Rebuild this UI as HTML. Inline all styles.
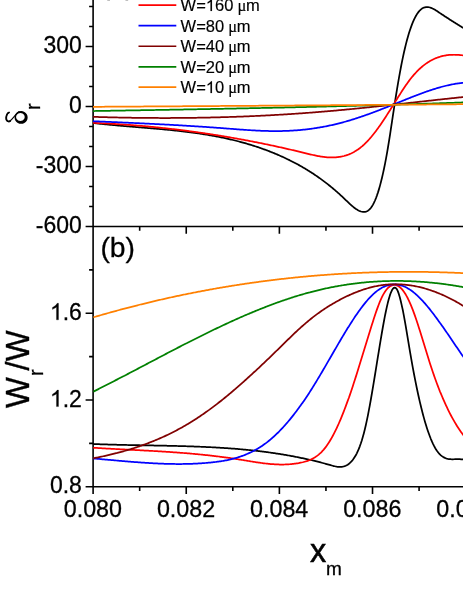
<!DOCTYPE html>
<html><head><meta charset="utf-8"><title>chart</title>
<style>
html,body{margin:0;padding:0;background:#fff;}
body{width:463px;height:599px;overflow:hidden;position:relative;}
.s{font-family:"Liberation Sans",sans-serif;fill:#000;}
.sf{font-family:"Liberation Serif",serif;fill:#000;}
.t{stroke:#000;stroke-width:0.28px;}
.l{stroke:#000;stroke-width:0.15px;}
</style></head><body>
<svg width="463" height="599" viewBox="0 0 463 599" style="position:absolute;left:0;top:0;will-change:transform;opacity:0.999">
<rect width="463" height="599" fill="#fff"/>
<path d="M93.10 -2 V487.55 M92.30 226.50 H470 M92.30 486.75 H470 M89.10 6.44 H93.10 M89.10 26.44 H93.10 M85.60 46.45 H93.10 M89.10 66.46 H93.10 M89.10 86.46 H93.10 M85.60 106.47 H93.10 M89.10 126.47 H93.10 M89.10 146.48 H93.10 M85.60 166.49 H93.10 M89.10 186.49 H93.10 M89.10 206.50 H93.10 M85.60 226.50 H93.10 M85.60 486.75 H93.10 M89.10 443.38 H93.10 M85.60 400.00 H93.10 M89.10 356.62 H93.10 M85.60 313.25 H93.10 M89.10 269.88 H93.10 M93.10 226.50 V233.80 M139.67 226.50 V230.80 M186.24 226.50 V233.80 M232.81 226.50 V230.80 M279.38 226.50 V233.80 M325.95 226.50 V230.80 M372.52 226.50 V233.80 M419.09 226.50 V230.80 M465.66 226.50 V233.80 M93.10 486.75 V494.05 M139.67 486.75 V491.05 M186.24 486.75 V494.05 M232.81 486.75 V491.05 M279.38 486.75 V494.05 M325.95 486.75 V491.05 M372.52 486.75 V494.05 M419.09 486.75 V491.05 M465.66 486.75 V494.05" stroke="#000" stroke-width="1.60" fill="none"/>
<defs><clipPath id="ct"><rect x="92.50" y="-5" width="400" height="231.50"/></clipPath><clipPath id="cb"><rect x="92.50" y="226.50" width="400" height="260.25"/></clipPath></defs>
<g fill="none" stroke-width="1.75" stroke-linejoin="round" clip-path="url(#ct)">
<path stroke="#000" d="M93.0 122.97L94.0 123.09L95.0 123.20L96.0 123.32L97.0 123.43L98.0 123.54L99.0 123.65L100.0 123.76L101.0 123.87L102.0 123.97L103.0 124.08L104.0 124.18L105.0 124.28L106.0 124.38L107.0 124.48L108.0 124.58L109.0 124.68L110.0 124.78L111.0 124.87L112.0 124.97L113.0 125.06L114.0 125.15L115.0 125.24L116.0 125.33L117.0 125.42L118.0 125.51L119.0 125.60L120.0 125.69L121.0 125.78L122.0 125.86L123.0 125.95L124.0 126.04L125.0 126.12L126.0 126.21L127.0 126.29L128.0 126.37L129.0 126.46L130.0 126.54L131.0 126.62L132.0 126.70L133.0 126.79L134.0 126.87L135.0 126.95L136.0 127.03L137.0 127.11L138.0 127.20L139.0 127.28L140.0 127.36L141.0 127.44L142.0 127.52L143.0 127.60L144.0 127.69L145.0 127.77L146.0 127.85L147.0 127.93L148.0 128.02L149.0 128.10L150.0 128.18L151.0 128.27L152.0 128.35L153.0 128.44L154.0 128.52L155.0 128.61L156.0 128.70L157.0 128.78L158.0 128.87L159.0 128.96L160.0 129.05L161.0 129.14L162.0 129.23L163.0 129.32L164.0 129.42L165.0 129.51L166.0 129.61L167.0 129.70L168.0 129.80L169.0 129.90L170.0 130.00L171.0 130.10L172.0 130.20L173.0 130.30L174.0 130.40L175.0 130.51L176.0 130.61L177.0 130.72L178.0 130.83L179.0 130.94L180.0 131.05L181.0 131.17L182.0 131.28L183.0 131.40L184.0 131.52L185.0 131.64L186.0 131.76L187.0 131.88L188.0 132.01L189.0 132.13L190.0 132.26L191.0 132.39L192.0 132.52L193.0 132.66L194.0 132.79L195.0 132.93L196.0 133.07L197.0 133.21L198.0 133.36L199.0 133.50L200.0 133.65L201.0 133.80L202.0 133.96L203.0 134.11L204.0 134.27L205.0 134.43L206.0 134.59L207.0 134.76L208.0 134.92L209.0 135.09L210.0 135.27L211.0 135.44L212.0 135.62L213.0 135.80L214.0 135.98L215.0 136.17L216.0 136.35L217.0 136.55L218.0 136.74L219.0 136.94L220.0 137.13L221.0 137.34L222.0 137.54L223.0 137.75L224.0 137.96L225.0 138.18L226.0 138.39L227.0 138.61L228.0 138.84L229.0 139.07L230.0 139.30L231.0 139.53L232.0 139.77L233.0 140.01L234.0 140.25L235.0 140.50L236.0 140.75L237.0 141.00L238.0 141.26L239.0 141.52L240.0 141.78L241.0 142.05L242.0 142.32L243.0 142.60L244.0 142.88L245.0 143.16L246.0 143.45L247.0 143.74L248.0 144.04L249.0 144.33L250.0 144.64L251.0 144.94L252.0 145.25L253.0 145.57L254.0 145.89L255.0 146.21L256.0 146.54L257.0 146.87L258.0 147.20L259.0 147.54L260.0 147.89L261.0 148.24L262.0 148.59L263.0 148.95L264.0 149.31L265.0 149.68L266.0 150.05L267.0 150.42L268.0 150.80L269.0 151.19L270.0 151.58L271.0 151.97L272.0 152.37L273.0 152.77L274.0 153.18L275.0 153.59L276.0 154.01L277.0 154.43L278.0 154.86L279.0 155.30L280.0 155.73L281.0 156.18L282.0 156.62L283.0 157.08L284.0 157.54L285.0 158.00L286.0 158.47L287.0 158.95L288.0 159.43L289.0 159.91L290.0 160.41L291.0 160.91L292.0 161.41L293.0 161.92L294.0 162.44L295.0 162.96L296.0 163.49L297.0 164.03L298.0 164.57L299.0 165.12L300.0 165.68L301.0 166.24L302.0 166.82L303.0 167.39L304.0 167.98L305.0 168.57L306.0 169.17L307.0 169.78L308.0 170.39L309.0 171.02L310.0 171.65L311.0 172.28L312.0 172.93L313.0 173.59L314.0 174.25L315.0 174.92L316.0 175.60L317.0 176.28L318.0 176.98L319.0 177.68L320.0 178.40L321.0 179.12L322.0 179.85L323.0 180.59L324.0 181.34L325.0 182.10L326.0 182.86L327.0 183.64L328.0 184.42L329.0 185.22L330.0 186.02L331.0 186.84L332.0 187.66L333.0 188.50L334.0 189.34L335.0 190.20L336.0 191.06L337.0 191.93L338.0 192.82L339.0 193.71L340.0 194.62L341.0 195.54L342.0 196.46L343.0 197.40L344.0 198.35L345.0 199.31L346.0 200.27L347.0 201.24L348.0 202.19L349.0 203.14L350.0 204.06L351.0 204.97L352.0 205.84L353.0 206.68L354.0 207.48L355.0 208.24L356.0 208.94L357.0 209.59L358.0 210.17L359.0 210.69L360.0 211.13L361.0 211.49L362.0 211.76L363.0 211.93L364.0 211.98L365.0 211.89L366.0 211.66L367.0 211.26L368.0 210.68L369.0 209.91L370.0 208.94L371.0 207.74L372.0 206.30L373.0 204.62L374.0 202.68L375.0 200.50L376.0 198.05L377.0 195.34L378.0 192.37L379.0 189.13L380.0 185.62L381.0 181.83L382.0 177.76L383.0 173.40L384.0 168.76L385.0 163.83L386.0 158.61L387.0 153.09L388.0 147.27L389.0 141.14L390.0 134.78L391.0 128.23L392.0 121.60L393.0 114.93L394.0 108.32L395.0 101.83L396.0 95.49L397.0 89.34L398.0 83.37L399.0 77.61L400.0 72.06L401.0 66.74L402.0 61.66L403.0 56.84L404.0 52.27L405.0 47.96L406.0 43.89L407.0 40.06L408.0 36.48L409.0 33.12L410.0 29.99L411.0 27.09L412.0 24.41L413.0 21.94L414.0 19.68L415.0 17.62L416.0 15.77L417.0 14.11L418.0 12.65L419.0 11.37L420.0 10.28L421.0 9.36L422.0 8.61L423.0 8.01L424.0 7.57L425.0 7.27L426.0 7.09L427.0 7.04L428.0 7.10L429.0 7.26L430.0 7.52L431.0 7.85L432.0 8.27L433.0 8.74L434.0 9.27L435.0 9.85L436.0 10.47L437.0 11.11L438.0 11.77L439.0 12.44L440.0 13.11L441.0 13.78L442.0 14.44L443.0 15.10L444.0 15.76L445.0 16.41L446.0 17.06L447.0 17.71L448.0 18.35L449.0 19.00L450.0 19.64L451.0 20.27L452.0 20.91L453.0 21.54L454.0 22.18L455.0 22.81L456.0 23.43L457.0 24.06L458.0 24.68L459.0 25.31L460.0 25.93L461.0 26.55L462.0 27.17L463.0 27.79L464.0 28.41L465.0 29.02L466.0 29.64L467.0 30.25L468.0 30.87L469.0 31.48L470.0 32.09L471.0 32.71L472.0 33.32L473.0 33.93L474.0 34.54L475.0 35.16L476.0 35.77L477.0 36.38L478.0 37.00"/>
<path stroke="#f00" d="M93.0 122.85L94.0 122.89L95.0 122.93L96.0 122.98L97.0 123.02L98.0 123.06L99.0 123.11L100.0 123.15L101.0 123.20L102.0 123.25L103.0 123.30L104.0 123.34L105.0 123.40L106.0 123.45L107.0 123.50L108.0 123.55L109.0 123.61L110.0 123.66L111.0 123.72L112.0 123.78L113.0 123.83L114.0 123.89L115.0 123.95L116.0 124.02L117.0 124.08L118.0 124.14L119.0 124.21L120.0 124.27L121.0 124.34L122.0 124.40L123.0 124.47L124.0 124.54L125.0 124.61L126.0 124.68L127.0 124.75L128.0 124.83L129.0 124.90L130.0 124.98L131.0 125.05L132.0 125.13L133.0 125.21L134.0 125.29L135.0 125.37L136.0 125.45L137.0 125.53L138.0 125.61L139.0 125.70L140.0 125.78L141.0 125.87L142.0 125.95L143.0 126.04L144.0 126.13L145.0 126.22L146.0 126.31L147.0 126.40L148.0 126.49L149.0 126.59L150.0 126.68L151.0 126.78L152.0 126.87L153.0 126.97L154.0 127.07L155.0 127.17L156.0 127.27L157.0 127.37L158.0 127.47L159.0 127.57L160.0 127.68L161.0 127.78L162.0 127.89L163.0 128.00L164.0 128.10L165.0 128.21L166.0 128.32L167.0 128.43L168.0 128.55L169.0 128.66L170.0 128.77L171.0 128.89L172.0 129.00L173.0 129.12L174.0 129.24L175.0 129.36L176.0 129.48L177.0 129.60L178.0 129.72L179.0 129.84L180.0 129.97L181.0 130.09L182.0 130.22L183.0 130.34L184.0 130.47L185.0 130.60L186.0 130.73L187.0 130.86L188.0 130.99L189.0 131.12L190.0 131.26L191.0 131.39L192.0 131.53L193.0 131.66L194.0 131.80L195.0 131.94L196.0 132.08L197.0 132.22L198.0 132.36L199.0 132.50L200.0 132.64L201.0 132.79L202.0 132.93L203.0 133.08L204.0 133.23L205.0 133.37L206.0 133.52L207.0 133.67L208.0 133.82L209.0 133.98L210.0 134.13L211.0 134.28L212.0 134.44L213.0 134.59L214.0 134.75L215.0 134.91L216.0 135.07L217.0 135.23L218.0 135.39L219.0 135.55L220.0 135.71L221.0 135.88L222.0 136.04L223.0 136.21L224.0 136.37L225.0 136.54L226.0 136.71L227.0 136.88L228.0 137.05L229.0 137.22L230.0 137.39L231.0 137.57L232.0 137.74L233.0 137.91L234.0 138.09L235.0 138.27L236.0 138.45L237.0 138.63L238.0 138.81L239.0 138.99L240.0 139.17L241.0 139.35L242.0 139.54L243.0 139.72L244.0 139.91L245.0 140.09L246.0 140.28L247.0 140.47L248.0 140.66L249.0 140.85L250.0 141.04L251.0 141.24L252.0 141.43L253.0 141.62L254.0 141.82L255.0 142.02L256.0 142.21L257.0 142.41L258.0 142.61L259.0 142.81L260.0 143.01L261.0 143.22L262.0 143.42L263.0 143.63L264.0 143.83L265.0 144.04L266.0 144.24L267.0 144.45L268.0 144.66L269.0 144.87L270.0 145.08L271.0 145.30L272.0 145.51L273.0 145.72L274.0 145.94L275.0 146.16L276.0 146.37L277.0 146.59L278.0 146.81L279.0 147.03L280.0 147.25L281.0 147.47L282.0 147.70L283.0 147.92L284.0 148.14L285.0 148.37L286.0 148.60L287.0 148.82L288.0 149.05L289.0 149.28L290.0 149.51L291.0 149.75L292.0 149.98L293.0 150.21L294.0 150.45L295.0 150.68L296.0 150.92L297.0 151.16L298.0 151.39L299.0 151.63L300.0 151.87L301.0 152.12L302.0 152.36L303.0 152.60L304.0 152.85L305.0 153.09L306.0 153.34L307.0 153.58L308.0 153.82L309.0 154.06L310.0 154.30L311.0 154.53L312.0 154.76L313.0 154.99L314.0 155.21L315.0 155.42L316.0 155.63L317.0 155.83L318.0 156.02L319.0 156.20L320.0 156.37L321.0 156.54L322.0 156.69L323.0 156.83L324.0 156.96L325.0 157.08L326.0 157.18L327.0 157.27L328.0 157.34L329.0 157.40L330.0 157.44L331.0 157.47L332.0 157.47L333.0 157.46L334.0 157.44L335.0 157.39L336.0 157.32L337.0 157.23L338.0 157.12L339.0 156.99L340.0 156.84L341.0 156.66L342.0 156.46L343.0 156.23L344.0 155.98L345.0 155.70L346.0 155.40L347.0 155.06L348.0 154.70L349.0 154.32L350.0 153.90L351.0 153.45L352.0 152.97L353.0 152.46L354.0 151.92L355.0 151.35L356.0 150.74L357.0 150.10L358.0 149.42L359.0 148.71L360.0 147.97L361.0 147.18L362.0 146.36L363.0 145.50L364.0 144.61L365.0 143.67L366.0 142.69L367.0 141.68L368.0 140.62L369.0 139.53L370.0 138.40L371.0 137.23L372.0 136.04L373.0 134.80L374.0 133.54L375.0 132.25L376.0 130.93L377.0 129.58L378.0 128.21L379.0 126.81L380.0 125.39L381.0 123.94L382.0 122.48L383.0 120.99L384.0 119.49L385.0 117.97L386.0 116.44L387.0 114.89L388.0 113.33L389.0 111.75L390.0 110.17L391.0 108.58L392.0 106.98L393.0 105.37L394.0 103.76L395.0 102.15L396.0 100.54L397.0 98.93L398.0 97.33L399.0 95.74L400.0 94.16L401.0 92.60L402.0 91.05L403.0 89.52L404.0 88.01L405.0 86.53L406.0 85.08L407.0 83.65L408.0 82.25L409.0 80.89L410.0 79.57L411.0 78.28L412.0 77.04L413.0 75.84L414.0 74.68L415.0 73.55L416.0 72.47L417.0 71.42L418.0 70.42L419.0 69.45L420.0 68.51L421.0 67.62L422.0 66.75L423.0 65.93L424.0 65.14L425.0 64.38L426.0 63.66L427.0 62.97L428.0 62.31L429.0 61.68L430.0 61.09L431.0 60.52L432.0 59.99L433.0 59.48L434.0 59.01L435.0 58.56L436.0 58.14L437.0 57.75L438.0 57.39L439.0 57.05L440.0 56.74L441.0 56.45L442.0 56.19L443.0 55.95L444.0 55.73L445.0 55.54L446.0 55.37L447.0 55.22L448.0 55.10L449.0 54.99L450.0 54.90L451.0 54.84L452.0 54.79L453.0 54.76L454.0 54.75L455.0 54.76L456.0 54.78L457.0 54.82L458.0 54.88L459.0 54.95L460.0 55.04L461.0 55.14L462.0 55.25L463.0 55.38L464.0 55.52"/>
<path stroke="#00f" d="M93.0 121.23L94.0 121.27L95.0 121.31L96.0 121.35L97.0 121.40L98.0 121.44L99.0 121.48L100.0 121.52L101.0 121.56L102.0 121.60L103.0 121.65L104.0 121.69L105.0 121.73L106.0 121.77L107.0 121.81L108.0 121.86L109.0 121.90L110.0 121.94L111.0 121.98L112.0 122.03L113.0 122.07L114.0 122.11L115.0 122.16L116.0 122.20L117.0 122.24L118.0 122.29L119.0 122.33L120.0 122.37L121.0 122.42L122.0 122.46L123.0 122.50L124.0 122.55L125.0 122.59L126.0 122.64L127.0 122.68L128.0 122.73L129.0 122.77L130.0 122.82L131.0 122.86L132.0 122.91L133.0 122.95L134.0 123.00L135.0 123.04L136.0 123.09L137.0 123.14L138.0 123.18L139.0 123.23L140.0 123.28L141.0 123.32L142.0 123.37L143.0 123.42L144.0 123.47L145.0 123.51L146.0 123.56L147.0 123.61L148.0 123.66L149.0 123.71L150.0 123.76L151.0 123.81L152.0 123.86L153.0 123.91L154.0 123.96L155.0 124.01L156.0 124.06L157.0 124.11L158.0 124.16L159.0 124.21L160.0 124.26L161.0 124.31L162.0 124.37L163.0 124.42L164.0 124.47L165.0 124.52L166.0 124.58L167.0 124.63L168.0 124.68L169.0 124.74L170.0 124.79L171.0 124.85L172.0 124.90L173.0 124.96L174.0 125.01L175.0 125.07L176.0 125.13L177.0 125.18L178.0 125.24L179.0 125.30L180.0 125.36L181.0 125.41L182.0 125.47L183.0 125.53L184.0 125.59L185.0 125.65L186.0 125.71L187.0 125.77L188.0 125.83L189.0 125.89L190.0 125.95L191.0 126.01L192.0 126.08L193.0 126.14L194.0 126.20L195.0 126.27L196.0 126.33L197.0 126.39L198.0 126.46L199.0 126.52L200.0 126.59L201.0 126.65L202.0 126.72L203.0 126.79L204.0 126.85L205.0 126.92L206.0 126.99L207.0 127.06L208.0 127.13L209.0 127.20L210.0 127.27L211.0 127.34L212.0 127.41L213.0 127.48L214.0 127.55L215.0 127.62L216.0 127.69L217.0 127.77L218.0 127.84L219.0 127.91L220.0 127.99L221.0 128.06L222.0 128.14L223.0 128.21L224.0 128.29L225.0 128.37L226.0 128.44L227.0 128.52L228.0 128.60L229.0 128.67L230.0 128.75L231.0 128.83L232.0 128.91L233.0 128.98L234.0 129.06L235.0 129.14L236.0 129.21L237.0 129.29L238.0 129.36L239.0 129.44L240.0 129.51L241.0 129.58L242.0 129.65L243.0 129.72L244.0 129.79L245.0 129.86L246.0 129.93L247.0 130.00L248.0 130.06L249.0 130.13L250.0 130.19L251.0 130.25L252.0 130.31L253.0 130.37L254.0 130.42L255.0 130.48L256.0 130.53L257.0 130.58L258.0 130.63L259.0 130.67L260.0 130.72L261.0 130.76L262.0 130.80L263.0 130.84L264.0 130.87L265.0 130.90L266.0 130.93L267.0 130.96L268.0 130.99L269.0 131.01L270.0 131.03L271.0 131.04L272.0 131.06L273.0 131.07L274.0 131.07L275.0 131.08L276.0 131.08L277.0 131.08L278.0 131.07L279.0 131.06L280.0 131.05L281.0 131.03L282.0 131.01L283.0 130.99L284.0 130.96L285.0 130.93L286.0 130.89L287.0 130.85L288.0 130.81L289.0 130.77L290.0 130.72L291.0 130.66L292.0 130.60L293.0 130.54L294.0 130.48L295.0 130.41L296.0 130.34L297.0 130.26L298.0 130.18L299.0 130.10L300.0 130.01L301.0 129.91L302.0 129.82L303.0 129.72L304.0 129.61L305.0 129.51L306.0 129.39L307.0 129.28L308.0 129.16L309.0 129.03L310.0 128.91L311.0 128.77L312.0 128.64L313.0 128.50L314.0 128.35L315.0 128.20L316.0 128.05L317.0 127.90L318.0 127.73L319.0 127.57L320.0 127.40L321.0 127.23L322.0 127.05L323.0 126.87L324.0 126.68L325.0 126.49L326.0 126.29L327.0 126.09L328.0 125.89L329.0 125.68L330.0 125.47L331.0 125.25L332.0 125.03L333.0 124.81L334.0 124.58L335.0 124.34L336.0 124.10L337.0 123.86L338.0 123.61L339.0 123.36L340.0 123.10L341.0 122.84L342.0 122.58L343.0 122.31L344.0 122.03L345.0 121.76L346.0 121.47L347.0 121.19L348.0 120.89L349.0 120.60L350.0 120.30L351.0 120.00L352.0 119.69L353.0 119.38L354.0 119.07L355.0 118.75L356.0 118.43L357.0 118.10L358.0 117.77L359.0 117.44L360.0 117.11L361.0 116.77L362.0 116.43L363.0 116.08L364.0 115.74L365.0 115.39L366.0 115.03L367.0 114.68L368.0 114.32L369.0 113.96L370.0 113.59L371.0 113.22L372.0 112.86L373.0 112.48L374.0 112.11L375.0 111.73L376.0 111.35L377.0 110.97L378.0 110.59L379.0 110.21L380.0 109.82L381.0 109.43L382.0 109.04L383.0 108.65L384.0 108.26L385.0 107.86L386.0 107.47L387.0 107.07L388.0 106.67L389.0 106.27L390.0 105.87L391.0 105.47L392.0 105.07L393.0 104.67L394.0 104.27L395.0 103.87L396.0 103.46L397.0 103.06L398.0 102.66L399.0 102.25L400.0 101.85L401.0 101.44L402.0 101.04L403.0 100.64L404.0 100.23L405.0 99.83L406.0 99.43L407.0 99.03L408.0 98.63L409.0 98.23L410.0 97.83L411.0 97.44L412.0 97.04L413.0 96.65L414.0 96.26L415.0 95.87L416.0 95.49L417.0 95.10L418.0 94.72L419.0 94.34L420.0 93.97L421.0 93.59L422.0 93.23L423.0 92.86L424.0 92.50L425.0 92.14L426.0 91.78L427.0 91.43L428.0 91.09L429.0 90.74L430.0 90.41L431.0 90.07L432.0 89.75L433.0 89.42L434.0 89.10L435.0 88.79L436.0 88.48L437.0 88.18L438.0 87.89L439.0 87.60L440.0 87.31L441.0 87.03L442.0 86.76L443.0 86.50L444.0 86.24L445.0 85.99L446.0 85.75L447.0 85.51L448.0 85.28L449.0 85.06L450.0 84.84L451.0 84.64L452.0 84.44L453.0 84.25L454.0 84.07L455.0 83.89L456.0 83.73L457.0 83.57L458.0 83.43L459.0 83.29L460.0 83.16L461.0 83.04L462.0 82.93L463.0 82.83L464.0 82.74"/>
<path stroke="#800000" d="M93.0 116.84L94.0 116.87L95.0 116.90L96.0 116.93L97.0 116.96L98.0 116.99L99.0 117.02L100.0 117.05L101.0 117.08L102.0 117.11L103.0 117.13L104.0 117.16L105.0 117.19L106.0 117.22L107.0 117.24L108.0 117.27L109.0 117.29L110.0 117.32L111.0 117.34L112.0 117.37L113.0 117.39L114.0 117.41L115.0 117.44L116.0 117.46L117.0 117.48L118.0 117.50L119.0 117.52L120.0 117.54L121.0 117.56L122.0 117.58L123.0 117.60L124.0 117.62L125.0 117.64L126.0 117.66L127.0 117.67L128.0 117.69L129.0 117.71L130.0 117.72L131.0 117.74L132.0 117.76L133.0 117.77L134.0 117.78L135.0 117.80L136.0 117.81L137.0 117.82L138.0 117.84L139.0 117.85L140.0 117.86L141.0 117.87L142.0 117.88L143.0 117.89L144.0 117.90L145.0 117.91L146.0 117.92L147.0 117.93L148.0 117.94L149.0 117.95L150.0 117.95L151.0 117.96L152.0 117.97L153.0 117.97L154.0 117.98L155.0 117.98L156.0 117.99L157.0 117.99L158.0 117.99L159.0 118.00L160.0 118.00L161.0 118.00L162.0 118.00L163.0 118.00L164.0 118.00L165.0 118.00L166.0 118.00L167.0 118.00L168.0 118.00L169.0 118.00L170.0 118.00L171.0 117.99L172.0 117.99L173.0 117.99L174.0 117.98L175.0 117.98L176.0 117.97L177.0 117.97L178.0 117.96L179.0 117.95L180.0 117.95L181.0 117.94L182.0 117.93L183.0 117.92L184.0 117.91L185.0 117.91L186.0 117.90L187.0 117.89L188.0 117.87L189.0 117.86L190.0 117.85L191.0 117.84L192.0 117.83L193.0 117.81L194.0 117.80L195.0 117.78L196.0 117.77L197.0 117.75L198.0 117.74L199.0 117.72L200.0 117.71L201.0 117.69L202.0 117.67L203.0 117.65L204.0 117.63L205.0 117.61L206.0 117.59L207.0 117.57L208.0 117.55L209.0 117.53L210.0 117.51L211.0 117.49L212.0 117.47L213.0 117.44L214.0 117.42L215.0 117.39L216.0 117.37L217.0 117.34L218.0 117.32L219.0 117.29L220.0 117.26L221.0 117.24L222.0 117.21L223.0 117.18L224.0 117.15L225.0 117.12L226.0 117.09L227.0 117.06L228.0 117.03L229.0 117.00L230.0 116.97L231.0 116.94L232.0 116.90L233.0 116.87L234.0 116.84L235.0 116.80L236.0 116.77L237.0 116.73L238.0 116.69L239.0 116.66L240.0 116.62L241.0 116.58L242.0 116.54L243.0 116.51L244.0 116.47L245.0 116.43L246.0 116.39L247.0 116.35L248.0 116.30L249.0 116.26L250.0 116.22L251.0 116.18L252.0 116.13L253.0 116.09L254.0 116.04L255.0 116.00L256.0 115.95L257.0 115.91L258.0 115.86L259.0 115.81L260.0 115.77L261.0 115.72L262.0 115.67L263.0 115.62L264.0 115.57L265.0 115.52L266.0 115.47L267.0 115.42L268.0 115.36L269.0 115.31L270.0 115.26L271.0 115.20L272.0 115.15L273.0 115.09L274.0 115.04L275.0 114.98L276.0 114.93L277.0 114.87L278.0 114.81L279.0 114.75L280.0 114.70L281.0 114.64L282.0 114.58L283.0 114.52L284.0 114.46L285.0 114.39L286.0 114.33L287.0 114.27L288.0 114.21L289.0 114.14L290.0 114.08L291.0 114.01L292.0 113.95L293.0 113.88L294.0 113.82L295.0 113.75L296.0 113.68L297.0 113.61L298.0 113.54L299.0 113.47L300.0 113.40L301.0 113.33L302.0 113.26L303.0 113.19L304.0 113.12L305.0 113.05L306.0 112.97L307.0 112.90L308.0 112.82L309.0 112.75L310.0 112.67L311.0 112.60L312.0 112.52L313.0 112.44L314.0 112.37L315.0 112.29L316.0 112.21L317.0 112.13L318.0 112.05L319.0 111.97L320.0 111.89L321.0 111.80L322.0 111.72L323.0 111.64L324.0 111.55L325.0 111.47L326.0 111.39L327.0 111.30L328.0 111.21L329.0 111.13L330.0 111.04L331.0 110.95L332.0 110.86L333.0 110.78L334.0 110.69L335.0 110.60L336.0 110.51L337.0 110.42L338.0 110.32L339.0 110.23L340.0 110.14L341.0 110.05L342.0 109.95L343.0 109.86L344.0 109.77L345.0 109.67L346.0 109.58L347.0 109.48L348.0 109.38L349.0 109.29L350.0 109.19L351.0 109.09L352.0 109.00L353.0 108.90L354.0 108.80L355.0 108.70L356.0 108.60L357.0 108.50L358.0 108.40L359.0 108.30L360.0 108.20L361.0 108.10L362.0 108.00L363.0 107.89L364.0 107.79L365.0 107.69L366.0 107.59L367.0 107.48L368.0 107.38L369.0 107.28L370.0 107.17L371.0 107.07L372.0 106.96L373.0 106.86L374.0 106.75L375.0 106.65L376.0 106.54L377.0 106.43L378.0 106.33L379.0 106.22L380.0 106.11L381.0 106.01L382.0 105.90L383.0 105.79L384.0 105.69L385.0 105.58L386.0 105.47L387.0 105.36L388.0 105.25L389.0 105.14L390.0 105.03L391.0 104.93L392.0 104.82L393.0 104.71L394.0 104.60L395.0 104.49L396.0 104.38L397.0 104.27L398.0 104.16L399.0 104.05L400.0 103.94L401.0 103.83L402.0 103.72L403.0 103.61L404.0 103.50L405.0 103.39L406.0 103.28L407.0 103.17L408.0 103.05L409.0 102.94L410.0 102.83L411.0 102.72L412.0 102.61L413.0 102.50L414.0 102.39L415.0 102.28L416.0 102.17L417.0 102.06L418.0 101.94L419.0 101.83L420.0 101.72L421.0 101.61L422.0 101.50L423.0 101.39L424.0 101.28L425.0 101.17L426.0 101.06L427.0 100.95L428.0 100.84L429.0 100.73L430.0 100.62L431.0 100.51L432.0 100.40L433.0 100.29L434.0 100.18L435.0 100.07L436.0 99.96L437.0 99.85L438.0 99.74L439.0 99.63L440.0 99.52L441.0 99.41L442.0 99.30L443.0 99.19L444.0 99.08L445.0 98.97L446.0 98.87L447.0 98.76L448.0 98.65L449.0 98.54L450.0 98.44L451.0 98.33L452.0 98.22L453.0 98.12L454.0 98.01L455.0 97.90L456.0 97.80L457.0 97.69L458.0 97.59L459.0 97.48L460.0 97.38L461.0 97.27L462.0 97.17L463.0 97.06L464.0 96.96"/>
<path stroke="#008000" d="M93.0 111.04L94.0 111.02L95.0 111.00L96.0 110.99L97.0 110.97L98.0 110.95L99.0 110.94L100.0 110.92L101.0 110.90L102.0 110.89L103.0 110.87L104.0 110.85L105.0 110.84L106.0 110.82L107.0 110.81L108.0 110.79L109.0 110.77L110.0 110.76L111.0 110.74L112.0 110.72L113.0 110.71L114.0 110.69L115.0 110.67L116.0 110.66L117.0 110.64L118.0 110.62L119.0 110.61L120.0 110.59L121.0 110.57L122.0 110.56L123.0 110.54L124.0 110.52L125.0 110.51L126.0 110.49L127.0 110.47L128.0 110.46L129.0 110.44L130.0 110.42L131.0 110.41L132.0 110.39L133.0 110.37L134.0 110.36L135.0 110.34L136.0 110.32L137.0 110.31L138.0 110.29L139.0 110.27L140.0 110.26L141.0 110.24L142.0 110.22L143.0 110.20L144.0 110.19L145.0 110.17L146.0 110.15L147.0 110.14L148.0 110.12L149.0 110.10L150.0 110.08L151.0 110.07L152.0 110.05L153.0 110.03L154.0 110.02L155.0 110.00L156.0 109.98L157.0 109.96L158.0 109.95L159.0 109.93L160.0 109.91L161.0 109.90L162.0 109.88L163.0 109.86L164.0 109.84L165.0 109.83L166.0 109.81L167.0 109.79L168.0 109.77L169.0 109.76L170.0 109.74L171.0 109.72L172.0 109.70L173.0 109.69L174.0 109.67L175.0 109.65L176.0 109.63L177.0 109.61L178.0 109.60L179.0 109.58L180.0 109.56L181.0 109.54L182.0 109.53L183.0 109.51L184.0 109.49L185.0 109.47L186.0 109.45L187.0 109.44L188.0 109.42L189.0 109.40L190.0 109.38L191.0 109.36L192.0 109.34L193.0 109.33L194.0 109.31L195.0 109.29L196.0 109.27L197.0 109.25L198.0 109.24L199.0 109.22L200.0 109.20L201.0 109.18L202.0 109.16L203.0 109.14L204.0 109.12L205.0 109.11L206.0 109.09L207.0 109.07L208.0 109.05L209.0 109.03L210.0 109.01L211.0 108.99L212.0 108.97L213.0 108.96L214.0 108.94L215.0 108.92L216.0 108.90L217.0 108.88L218.0 108.86L219.0 108.84L220.0 108.82L221.0 108.80L222.0 108.78L223.0 108.76L224.0 108.75L225.0 108.73L226.0 108.71L227.0 108.69L228.0 108.67L229.0 108.65L230.0 108.63L231.0 108.61L232.0 108.59L233.0 108.57L234.0 108.55L235.0 108.53L236.0 108.51L237.0 108.49L238.0 108.47L239.0 108.45L240.0 108.43L241.0 108.41L242.0 108.39L243.0 108.37L244.0 108.35L245.0 108.33L246.0 108.31L247.0 108.29L248.0 108.27L249.0 108.25L250.0 108.23L251.0 108.21L252.0 108.19L253.0 108.17L254.0 108.15L255.0 108.13L256.0 108.11L257.0 108.08L258.0 108.06L259.0 108.04L260.0 108.02L261.0 108.00L262.0 107.98L263.0 107.96L264.0 107.94L265.0 107.92L266.0 107.90L267.0 107.87L268.0 107.85L269.0 107.83L270.0 107.81L271.0 107.79L272.0 107.77L273.0 107.75L274.0 107.72L275.0 107.70L276.0 107.68L277.0 107.66L278.0 107.64L279.0 107.62L280.0 107.59L281.0 107.57L282.0 107.55L283.0 107.53L284.0 107.51L285.0 107.48L286.0 107.46L287.0 107.44L288.0 107.42L289.0 107.40L290.0 107.37L291.0 107.35L292.0 107.33L293.0 107.30L294.0 107.28L295.0 107.26L296.0 107.24L297.0 107.21L298.0 107.19L299.0 107.17L300.0 107.15L301.0 107.12L302.0 107.10L303.0 107.08L304.0 107.05L305.0 107.03L306.0 107.01L307.0 106.98L308.0 106.96L309.0 106.94L310.0 106.91L311.0 106.89L312.0 106.86L313.0 106.84L314.0 106.82L315.0 106.79L316.0 106.77L317.0 106.74L318.0 106.72L319.0 106.70L320.0 106.67L321.0 106.65L322.0 106.62L323.0 106.60L324.0 106.57L325.0 106.55L326.0 106.53L327.0 106.50L328.0 106.48L329.0 106.45L330.0 106.43L331.0 106.40L332.0 106.38L333.0 106.35L334.0 106.33L335.0 106.30L336.0 106.28L337.0 106.25L338.0 106.23L339.0 106.20L340.0 106.17L341.0 106.15L342.0 106.12L343.0 106.10L344.0 106.07L345.0 106.05L346.0 106.02L347.0 105.99L348.0 105.97L349.0 105.94L350.0 105.91L351.0 105.89L352.0 105.86L353.0 105.84L354.0 105.81L355.0 105.78L356.0 105.76L357.0 105.73L358.0 105.70L359.0 105.68L360.0 105.65L361.0 105.62L362.0 105.59L363.0 105.57L364.0 105.54L365.0 105.51L366.0 105.49L367.0 105.46L368.0 105.43L369.0 105.40L370.0 105.37L371.0 105.35L372.0 105.32L373.0 105.29L374.0 105.26L375.0 105.23L376.0 105.21L377.0 105.18L378.0 105.15L379.0 105.12L380.0 105.09L381.0 105.06L382.0 105.04L383.0 105.01L384.0 104.98L385.0 104.95L386.0 104.92L387.0 104.89L388.0 104.86L389.0 104.83L390.0 104.80L391.0 104.77L392.0 104.75L393.0 104.72L394.0 104.69L395.0 104.66L396.0 104.63L397.0 104.60L398.0 104.57L399.0 104.54L400.0 104.51L401.0 104.48L402.0 104.45L403.0 104.42L404.0 104.39L405.0 104.35L406.0 104.32L407.0 104.29L408.0 104.26L409.0 104.23L410.0 104.20L411.0 104.17L412.0 104.14L413.0 104.11L414.0 104.08L415.0 104.04L416.0 104.01L417.0 103.98L418.0 103.95L419.0 103.92L420.0 103.89L421.0 103.85L422.0 103.82L423.0 103.79L424.0 103.76L425.0 103.73L426.0 103.69L427.0 103.66L428.0 103.63L429.0 103.60L430.0 103.56L431.0 103.53L432.0 103.50L433.0 103.46L434.0 103.43L435.0 103.40L436.0 103.36L437.0 103.33L438.0 103.30L439.0 103.26L440.0 103.23L441.0 103.20L442.0 103.16L443.0 103.13L444.0 103.09L445.0 103.06L446.0 103.03L447.0 102.99L448.0 102.96L449.0 102.92L450.0 102.89L451.0 102.85L452.0 102.82L453.0 102.78L454.0 102.75L455.0 102.71L456.0 102.68L457.0 102.64L458.0 102.61L459.0 102.57L460.0 102.54L461.0 102.50L462.0 102.46L463.0 102.43L464.0 102.39"/>
<path stroke="#ff8000" d="M93.0 106.82L94.0 106.81L95.0 106.80L96.0 106.80L97.0 106.79L98.0 106.78L99.0 106.78L100.0 106.77L101.0 106.76L102.0 106.76L103.0 106.75L104.0 106.75L105.0 106.74L106.0 106.73L107.0 106.73L108.0 106.72L109.0 106.71L110.0 106.71L111.0 106.70L112.0 106.69L113.0 106.69L114.0 106.68L115.0 106.68L116.0 106.67L117.0 106.66L118.0 106.66L119.0 106.65L120.0 106.64L121.0 106.64L122.0 106.63L123.0 106.62L124.0 106.62L125.0 106.61L126.0 106.60L127.0 106.60L128.0 106.59L129.0 106.59L130.0 106.58L131.0 106.57L132.0 106.57L133.0 106.56L134.0 106.55L135.0 106.55L136.0 106.54L137.0 106.53L138.0 106.53L139.0 106.52L140.0 106.52L141.0 106.51L142.0 106.50L143.0 106.50L144.0 106.49L145.0 106.48L146.0 106.48L147.0 106.47L148.0 106.46L149.0 106.46L150.0 106.45L151.0 106.45L152.0 106.44L153.0 106.43L154.0 106.43L155.0 106.42L156.0 106.41L157.0 106.41L158.0 106.40L159.0 106.39L160.0 106.39L161.0 106.38L162.0 106.37L163.0 106.37L164.0 106.36L165.0 106.36L166.0 106.35L167.0 106.34L168.0 106.34L169.0 106.33L170.0 106.32L171.0 106.32L172.0 106.31L173.0 106.30L174.0 106.30L175.0 106.29L176.0 106.29L177.0 106.28L178.0 106.27L179.0 106.27L180.0 106.26L181.0 106.25L182.0 106.25L183.0 106.24L184.0 106.23L185.0 106.23L186.0 106.22L187.0 106.21L188.0 106.21L189.0 106.20L190.0 106.19L191.0 106.19L192.0 106.18L193.0 106.18L194.0 106.17L195.0 106.16L196.0 106.16L197.0 106.15L198.0 106.14L199.0 106.14L200.0 106.13L201.0 106.12L202.0 106.12L203.0 106.11L204.0 106.10L205.0 106.10L206.0 106.09L207.0 106.08L208.0 106.08L209.0 106.07L210.0 106.07L211.0 106.06L212.0 106.05L213.0 106.05L214.0 106.04L215.0 106.03L216.0 106.03L217.0 106.02L218.0 106.01L219.0 106.01L220.0 106.00L221.0 105.99L222.0 105.99L223.0 105.98L224.0 105.97L225.0 105.97L226.0 105.96L227.0 105.95L228.0 105.95L229.0 105.94L230.0 105.93L231.0 105.93L232.0 105.92L233.0 105.91L234.0 105.91L235.0 105.90L236.0 105.89L237.0 105.89L238.0 105.88L239.0 105.87L240.0 105.87L241.0 105.86L242.0 105.85L243.0 105.85L244.0 105.84L245.0 105.83L246.0 105.83L247.0 105.82L248.0 105.81L249.0 105.81L250.0 105.80L251.0 105.79L252.0 105.79L253.0 105.78L254.0 105.77L255.0 105.77L256.0 105.76L257.0 105.75L258.0 105.75L259.0 105.74L260.0 105.73L261.0 105.73L262.0 105.72L263.0 105.71L264.0 105.71L265.0 105.70L266.0 105.69L267.0 105.69L268.0 105.68L269.0 105.67L270.0 105.67L271.0 105.66L272.0 105.65L273.0 105.65L274.0 105.64L275.0 105.63L276.0 105.63L277.0 105.62L278.0 105.61L279.0 105.61L280.0 105.60L281.0 105.59L282.0 105.58L283.0 105.58L284.0 105.57L285.0 105.56L286.0 105.56L287.0 105.55L288.0 105.54L289.0 105.54L290.0 105.53L291.0 105.52L292.0 105.52L293.0 105.51L294.0 105.50L295.0 105.49L296.0 105.49L297.0 105.48L298.0 105.47L299.0 105.47L300.0 105.46L301.0 105.45L302.0 105.45L303.0 105.44L304.0 105.43L305.0 105.42L306.0 105.42L307.0 105.41L308.0 105.40L309.0 105.40L310.0 105.39L311.0 105.38L312.0 105.38L313.0 105.37L314.0 105.36L315.0 105.35L316.0 105.35L317.0 105.34L318.0 105.33L319.0 105.33L320.0 105.32L321.0 105.31L322.0 105.30L323.0 105.30L324.0 105.29L325.0 105.28L326.0 105.28L327.0 105.27L328.0 105.26L329.0 105.25L330.0 105.25L331.0 105.24L332.0 105.23L333.0 105.23L334.0 105.22L335.0 105.21L336.0 105.20L337.0 105.20L338.0 105.19L339.0 105.18L340.0 105.17L341.0 105.17L342.0 105.16L343.0 105.15L344.0 105.15L345.0 105.14L346.0 105.13L347.0 105.12L348.0 105.12L349.0 105.11L350.0 105.10L351.0 105.09L352.0 105.09L353.0 105.08L354.0 105.07L355.0 105.06L356.0 105.06L357.0 105.05L358.0 105.04L359.0 105.03L360.0 105.03L361.0 105.02L362.0 105.01L363.0 105.00L364.0 105.00L365.0 104.99L366.0 104.98L367.0 104.97L368.0 104.97L369.0 104.96L370.0 104.95L371.0 104.94L372.0 104.94L373.0 104.93L374.0 104.92L375.0 104.91L376.0 104.91L377.0 104.90L378.0 104.89L379.0 104.88L380.0 104.88L381.0 104.87L382.0 104.86L383.0 104.85L384.0 104.84L385.0 104.84L386.0 104.83L387.0 104.82L388.0 104.81L389.0 104.81L390.0 104.80L391.0 104.79L392.0 104.78L393.0 104.77L394.0 104.77L395.0 104.76L396.0 104.75L397.0 104.74L398.0 104.74L399.0 104.73L400.0 104.72L401.0 104.71L402.0 104.70L403.0 104.70L404.0 104.69L405.0 104.68L406.0 104.67L407.0 104.66L408.0 104.66L409.0 104.65L410.0 104.64L411.0 104.63L412.0 104.62L413.0 104.62L414.0 104.61L415.0 104.60L416.0 104.59L417.0 104.58L418.0 104.58L419.0 104.57L420.0 104.56L421.0 104.55L422.0 104.54L423.0 104.54L424.0 104.53L425.0 104.52L426.0 104.51L427.0 104.50L428.0 104.49L429.0 104.49L430.0 104.48L431.0 104.47L432.0 104.46L433.0 104.45L434.0 104.44L435.0 104.44L436.0 104.43L437.0 104.42L438.0 104.41L439.0 104.40L440.0 104.39L441.0 104.39L442.0 104.38L443.0 104.37L444.0 104.36L445.0 104.35L446.0 104.34L447.0 104.34L448.0 104.33L449.0 104.32L450.0 104.31L451.0 104.30L452.0 104.29L453.0 104.29L454.0 104.28L455.0 104.27L456.0 104.26L457.0 104.25L458.0 104.24L459.0 104.23L460.0 104.23L461.0 104.22L462.0 104.21L463.0 104.20L464.0 104.19"/>
</g>
<g fill="none" stroke-width="1.75" stroke-linejoin="round" clip-path="url(#cb)">
<path stroke="#000" d="M93.2 443.99L94.2 444.03L95.2 444.07L96.2 444.11L97.2 444.15L98.2 444.18L99.2 444.22L100.2 444.26L101.2 444.29L102.2 444.33L103.2 444.36L104.2 444.39L105.2 444.43L106.2 444.46L107.2 444.49L108.2 444.52L109.2 444.55L110.2 444.58L111.2 444.61L112.2 444.64L113.2 444.66L114.2 444.69L115.2 444.72L116.2 444.74L117.3 444.77L118.3 444.79L119.3 444.82L120.3 444.84L121.3 444.86L122.3 444.89L123.3 444.91L124.3 444.93L125.3 444.96L126.3 444.98L127.3 445.00L128.3 445.02L129.3 445.04L130.3 445.06L131.3 445.08L132.3 445.10L133.3 445.12L134.3 445.14L135.3 445.16L136.3 445.18L137.3 445.20L138.3 445.22L139.3 445.23L140.3 445.25L141.3 445.27L142.3 445.29L143.3 445.31L144.3 445.33L145.3 445.34L146.3 445.36L147.3 445.38L148.3 445.40L149.3 445.42L150.3 445.44L151.3 445.45L152.3 445.47L153.3 445.49L154.3 445.51L155.3 445.53L156.3 445.55L157.3 445.57L158.3 445.58L159.3 445.60L160.3 445.62L161.3 445.64L162.3 445.66L163.3 445.68L164.3 445.70L165.4 445.72L166.4 445.74L167.4 445.77L168.4 445.79L169.4 445.81L170.4 445.83L171.4 445.85L172.4 445.88L173.4 445.90L174.4 445.93L175.4 445.95L176.4 445.97L177.4 446.00L178.4 446.03L179.4 446.05L180.4 446.08L181.4 446.11L182.4 446.13L183.4 446.16L184.4 446.19L185.4 446.22L186.4 446.25L187.4 446.28L188.4 446.31L189.4 446.35L190.4 446.38L191.4 446.41L192.4 446.45L193.4 446.48L194.4 446.52L195.4 446.55L196.4 446.59L197.4 446.63L198.4 446.67L199.4 446.71L200.4 446.75L201.4 446.79L202.4 446.83L203.4 446.88L204.4 446.92L205.4 446.96L206.4 447.01L207.4 447.06L208.4 447.11L209.4 447.15L210.4 447.20L211.4 447.25L212.5 447.31L213.5 447.36L214.5 447.41L215.5 447.47L216.5 447.52L217.5 447.58L218.5 447.64L219.5 447.70L220.5 447.76L221.5 447.82L222.5 447.89L223.5 447.95L224.5 448.02L225.5 448.08L226.5 448.15L227.5 448.22L228.5 448.29L229.5 448.36L230.5 448.44L231.5 448.51L232.5 448.59L233.5 448.66L234.5 448.74L235.5 448.82L236.5 448.90L237.5 448.99L238.5 449.07L239.5 449.16L240.5 449.25L241.5 449.33L242.5 449.42L243.5 449.52L244.5 449.61L245.5 449.71L246.5 449.80L247.5 449.90L248.5 450.00L249.5 450.10L250.5 450.20L251.5 450.31L252.5 450.42L253.5 450.52L254.5 450.63L255.5 450.75L256.5 450.86L257.5 450.97L258.5 451.09L259.5 451.21L260.6 451.33L261.6 451.45L262.6 451.58L263.6 451.70L264.6 451.83L265.6 451.96L266.6 452.09L267.6 452.22L268.6 452.36L269.6 452.50L270.6 452.64L271.6 452.78L272.6 452.92L273.6 453.07L274.6 453.21L275.6 453.36L276.6 453.52L277.6 453.67L278.6 453.82L279.6 453.98L280.6 454.14L281.6 454.30L282.6 454.47L283.6 454.64L284.6 454.80L285.6 454.97L286.6 455.15L287.6 455.32L288.6 455.50L289.6 455.68L290.6 455.86L291.6 456.05L292.6 456.23L293.6 456.42L294.6 456.61L295.6 456.81L296.6 457.00L297.6 457.20L298.6 457.40L299.6 457.61L300.6 457.81L301.6 458.02L302.6 458.23L303.6 458.44L304.6 458.66L305.6 458.88L306.6 459.10L307.7 459.32L308.7 459.55L309.7 459.78L310.7 460.01L311.7 460.24L312.7 460.48L313.7 460.72L314.7 460.96L315.7 461.20L316.7 461.45L317.7 461.70L318.7 461.95L319.7 462.21L320.7 462.47L321.7 462.73L322.7 462.99L323.7 463.26L324.7 463.53L325.7 463.80L326.7 464.08L327.7 464.35L328.7 464.64L329.7 464.92L330.7 465.21L331.7 465.49L332.7 465.77L333.7 466.03L334.7 466.27L335.7 466.49L336.7 466.67L337.7 466.82L338.7 466.91L339.7 466.96L340.7 466.95L341.7 466.87L342.7 466.72L343.7 466.50L344.7 466.19L345.7 465.79L346.7 465.30L347.7 464.70L348.7 464.00L349.7 463.17L350.7 462.23L351.7 461.16L352.7 459.94L353.7 458.57L354.7 457.02L355.8 455.29L356.8 453.37L357.8 451.24L358.8 448.89L359.8 446.31L360.8 443.49L361.8 440.40L362.8 437.05L363.8 433.41L364.8 429.47L365.8 425.23L366.8 420.67L367.8 415.82L368.8 410.69L369.8 405.33L370.8 399.77L371.8 394.02L372.8 388.12L373.8 382.11L374.8 376.01L375.8 369.84L376.8 363.65L377.8 357.45L378.8 351.29L379.8 345.18L380.8 339.16L381.8 333.26L382.8 327.52L383.8 321.99L384.8 316.71L385.8 311.73L386.8 307.08L387.8 302.83L388.8 299.00L389.8 295.64L390.8 292.81L391.8 290.53L392.8 288.87L393.8 287.85L394.8 287.54L395.8 287.96L396.8 289.17L397.8 291.17L398.8 293.88L399.8 297.25L400.8 301.20L401.8 305.65L402.9 310.54L403.9 315.80L404.9 321.36L405.9 327.14L406.9 333.07L407.9 339.09L408.9 345.12L409.9 351.10L410.9 356.94L411.9 362.63L412.9 368.14L413.9 373.50L414.9 378.68L415.9 383.70L416.9 388.55L417.9 393.24L418.9 397.76L419.9 402.11L420.9 406.30L421.9 410.32L422.9 414.18L423.9 417.87L424.9 421.39L425.9 424.75L426.9 427.94L427.9 430.97L428.9 433.82L429.9 436.52L430.9 439.05L431.9 441.41L432.9 443.60L433.9 445.63L434.9 447.49L435.9 449.19L436.9 450.72L437.9 452.09L438.9 453.31L439.9 454.38L440.9 455.32L441.9 456.13L442.9 456.83L443.9 457.41L444.9 457.90L445.9 458.30L446.9 458.61L447.9 458.85L448.9 459.03L449.9 459.15L451.0 459.22L452.0 459.26L453.0 459.27L454.0 459.25L455.0 459.23L456.0 459.20L457.0 459.18L458.0 459.17L459.0 459.19L460.0 459.23L461.0 459.28L462.0 459.35L463.0 459.42L464.0 459.48L465.0 459.54L466.0 459.58L467.0 459.61L468.0 459.61L469.0 459.58L470.0 459.51L471.0 459.40L472.0 459.24L473.0 459.02L474.0 458.75"/>
<path stroke="#f00" d="M93.2 447.75L94.2 447.81L95.2 447.87L96.2 447.93L97.2 447.99L98.2 448.05L99.2 448.11L100.2 448.17L101.2 448.23L102.2 448.28L103.2 448.34L104.2 448.40L105.2 448.45L106.2 448.51L107.2 448.57L108.2 448.62L109.2 448.68L110.2 448.73L111.2 448.78L112.2 448.84L113.2 448.89L114.2 448.94L115.2 449.00L116.2 449.05L117.3 449.10L118.3 449.16L119.3 449.21L120.3 449.26L121.3 449.31L122.3 449.36L123.3 449.41L124.3 449.47L125.3 449.52L126.3 449.57L127.3 449.62L128.3 449.67L129.3 449.72L130.3 449.77L131.3 449.83L132.3 449.88L133.3 449.93L134.3 449.98L135.3 450.03L136.3 450.08L137.3 450.14L138.3 450.19L139.3 450.24L140.3 450.29L141.3 450.35L142.3 450.40L143.3 450.45L144.3 450.51L145.3 450.56L146.3 450.61L147.3 450.67L148.3 450.72L149.3 450.78L150.3 450.83L151.3 450.89L152.3 450.95L153.3 451.00L154.3 451.06L155.3 451.12L156.3 451.18L157.3 451.23L158.3 451.29L159.3 451.35L160.3 451.41L161.3 451.48L162.3 451.54L163.4 451.60L164.4 451.66L165.4 451.73L166.4 451.79L167.4 451.85L168.4 451.92L169.4 451.99L170.4 452.05L171.4 452.12L172.4 452.19L173.4 452.26L174.4 452.33L175.4 452.40L176.4 452.47L177.4 452.55L178.4 452.62L179.4 452.69L180.4 452.77L181.4 452.85L182.4 452.92L183.4 453.00L184.4 453.08L185.4 453.16L186.4 453.24L187.4 453.32L188.4 453.41L189.4 453.49L190.4 453.58L191.4 453.67L192.4 453.75L193.4 453.84L194.4 453.93L195.4 454.02L196.4 454.12L197.4 454.21L198.4 454.31L199.4 454.40L200.4 454.50L201.4 454.60L202.4 454.70L203.4 454.80L204.4 454.91L205.4 455.01L206.4 455.12L207.4 455.22L208.4 455.33L209.5 455.44L210.5 455.55L211.5 455.67L212.5 455.78L213.5 455.90L214.5 456.02L215.5 456.14L216.5 456.26L217.5 456.38L218.5 456.50L219.5 456.63L220.5 456.76L221.5 456.89L222.5 457.02L223.5 457.15L224.5 457.28L225.5 457.42L226.5 457.56L227.5 457.70L228.5 457.84L229.5 457.98L230.5 458.13L231.5 458.27L232.5 458.42L233.5 458.57L234.5 458.73L235.5 458.88L236.5 459.04L237.5 459.20L238.5 459.36L239.5 459.52L240.5 459.68L241.5 459.85L242.5 460.01L243.5 460.18L244.5 460.34L245.5 460.51L246.5 460.68L247.5 460.84L248.5 461.01L249.5 461.17L250.5 461.34L251.5 461.50L252.5 461.66L253.5 461.82L254.5 461.98L255.6 462.13L256.6 462.28L257.6 462.43L258.6 462.58L259.6 462.72L260.6 462.86L261.6 463.00L262.6 463.13L263.6 463.26L264.6 463.38L265.6 463.50L266.6 463.61L267.6 463.72L268.6 463.82L269.6 463.92L270.6 464.01L271.6 464.09L272.6 464.17L273.6 464.24L274.6 464.30L275.6 464.36L276.6 464.41L277.6 464.45L278.6 464.48L279.6 464.51L280.6 464.53L281.6 464.53L282.6 464.53L283.6 464.52L284.6 464.50L285.6 464.47L286.6 464.43L287.6 464.39L288.6 464.32L289.6 464.25L290.6 464.17L291.6 464.08L292.6 463.98L293.6 463.86L294.6 463.73L295.6 463.59L296.6 463.44L297.6 463.27L298.6 463.10L299.6 462.90L300.6 462.70L301.6 462.48L302.7 462.25L303.7 462.00L304.7 461.73L305.7 461.45L306.7 461.14L307.7 460.80L308.7 460.44L309.7 460.04L310.7 459.61L311.7 459.14L312.7 458.63L313.7 458.07L314.7 457.48L315.7 456.83L316.7 456.13L317.7 455.38L318.7 454.58L319.7 453.71L320.7 452.78L321.7 451.79L322.7 450.72L323.7 449.59L324.7 448.39L325.7 447.11L326.7 445.75L327.7 444.32L328.7 442.81L329.7 441.22L330.7 439.57L331.7 437.84L332.7 436.03L333.7 434.16L334.7 432.21L335.7 430.20L336.7 428.12L337.7 425.96L338.7 423.74L339.7 421.46L340.7 419.10L341.7 416.68L342.7 414.20L343.7 411.65L344.7 409.04L345.7 406.37L346.7 403.64L347.7 400.85L348.8 398.00L349.8 395.11L350.8 392.17L351.8 389.18L352.8 386.15L353.8 383.09L354.8 379.99L355.8 376.86L356.8 373.70L357.8 370.51L358.8 367.31L359.8 364.08L360.8 360.84L361.8 357.59L362.8 354.33L363.8 351.06L364.8 347.79L365.8 344.52L366.8 341.26L367.8 338.00L368.8 334.75L369.8 331.51L370.8 328.29L371.8 325.09L372.8 321.92L373.8 318.80L374.8 315.74L375.8 312.76L376.8 309.88L377.8 307.10L378.8 304.45L379.8 301.94L380.8 299.59L381.8 297.41L382.8 295.42L383.8 293.61L384.8 291.99L385.8 290.54L386.8 289.26L387.8 288.16L388.8 287.22L389.8 286.45L390.8 285.84L391.8 285.39L392.8 285.09L393.8 284.94L394.9 284.95L395.9 285.11L396.9 285.41L397.9 285.87L398.9 286.47L399.9 287.23L400.9 288.13L401.9 289.18L402.9 290.37L403.9 291.71L404.9 293.19L405.9 294.82L406.9 296.59L407.9 298.51L408.9 300.57L409.9 302.77L410.9 305.10L411.9 307.57L412.9 310.15L413.9 312.85L414.9 315.65L415.9 318.53L416.9 321.50L417.9 324.54L418.9 327.65L419.9 330.80L420.9 334.00L421.9 337.23L422.9 340.49L423.9 343.76L424.9 347.03L425.9 350.30L426.9 353.56L427.9 356.79L428.9 359.98L429.9 363.14L430.9 366.23L431.9 369.27L432.9 372.24L433.9 375.15L434.9 378.00L435.9 380.79L436.9 383.51L437.9 386.17L438.9 388.77L439.9 391.31L441.0 393.80L442.0 396.22L443.0 398.59L444.0 400.89L445.0 403.14L446.0 405.34L447.0 407.48L448.0 409.56L449.0 411.59L450.0 413.57L451.0 415.49L452.0 417.36L453.0 419.17L454.0 420.94L455.0 422.65L456.0 424.32L457.0 425.93L458.0 427.50L459.0 429.01L460.0 430.48L461.0 431.90L462.0 433.27L463.0 434.60L464.0 435.88"/>
<path stroke="#00f" d="M93.2 458.48L94.2 458.57L95.2 458.65L96.2 458.74L97.2 458.82L98.2 458.91L99.2 458.99L100.2 459.08L101.2 459.17L102.2 459.26L103.2 459.34L104.2 459.43L105.2 459.52L106.2 459.61L107.2 459.70L108.2 459.79L109.2 459.88L110.2 459.96L111.2 460.05L112.2 460.14L113.2 460.23L114.2 460.32L115.2 460.41L116.2 460.50L117.3 460.58L118.3 460.67L119.3 460.76L120.3 460.85L121.3 460.93L122.3 461.02L123.3 461.10L124.3 461.19L125.3 461.27L126.3 461.36L127.3 461.44L128.3 461.53L129.3 461.61L130.3 461.69L131.3 461.77L132.3 461.85L133.3 461.93L134.3 462.01L135.3 462.08L136.3 462.16L137.3 462.24L138.3 462.31L139.3 462.38L140.3 462.46L141.3 462.53L142.3 462.60L143.3 462.67L144.3 462.73L145.3 462.80L146.3 462.86L147.3 462.93L148.3 462.99L149.3 463.05L150.3 463.11L151.3 463.17L152.3 463.22L153.3 463.28L154.3 463.33L155.3 463.38L156.3 463.43L157.3 463.48L158.3 463.53L159.3 463.57L160.3 463.61L161.3 463.65L162.3 463.69L163.4 463.73L164.4 463.76L165.4 463.80L166.4 463.83L167.4 463.85L168.4 463.88L169.4 463.91L170.4 463.93L171.4 463.95L172.4 463.96L173.4 463.98L174.4 463.99L175.4 464.00L176.4 464.01L177.4 464.01L178.4 464.02L179.4 464.02L180.4 464.02L181.4 464.01L182.4 464.00L183.4 463.99L184.4 463.98L185.4 463.96L186.4 463.94L187.4 463.92L188.4 463.90L189.4 463.87L190.4 463.84L191.4 463.81L192.4 463.77L193.4 463.73L194.4 463.69L195.4 463.64L196.4 463.59L197.4 463.54L198.4 463.49L199.4 463.43L200.4 463.36L201.4 463.30L202.4 463.23L203.4 463.16L204.4 463.08L205.4 463.00L206.4 462.92L207.4 462.83L208.4 462.74L209.5 462.65L210.5 462.55L211.5 462.45L212.5 462.34L213.5 462.23L214.5 462.12L215.5 462.00L216.5 461.87L217.5 461.74L218.5 461.60L219.5 461.46L220.5 461.31L221.5 461.16L222.5 460.99L223.5 460.82L224.5 460.65L225.5 460.46L226.5 460.27L227.5 460.06L228.5 459.85L229.5 459.63L230.5 459.40L231.5 459.17L232.5 458.92L233.5 458.66L234.5 458.39L235.5 458.11L236.5 457.82L237.5 457.52L238.5 457.20L239.5 456.88L240.5 456.54L241.5 456.19L242.5 455.83L243.5 455.45L244.5 455.07L245.5 454.66L246.5 454.25L247.5 453.82L248.5 453.37L249.5 452.91L250.5 452.44L251.5 451.95L252.5 451.45L253.5 450.93L254.5 450.39L255.6 449.84L256.6 449.27L257.6 448.68L258.6 448.08L259.6 447.45L260.6 446.81L261.6 446.16L262.6 445.48L263.6 444.79L264.6 444.08L265.6 443.34L266.6 442.59L267.6 441.82L268.6 441.03L269.6 440.22L270.6 439.38L271.6 438.53L272.6 437.66L273.6 436.77L274.6 435.86L275.6 434.92L276.6 433.97L277.6 433.00L278.6 432.01L279.6 431.00L280.6 429.97L281.6 428.92L282.6 427.85L283.6 426.77L284.6 425.66L285.6 424.54L286.6 423.39L287.6 422.23L288.6 421.05L289.6 419.85L290.6 418.63L291.6 417.40L292.6 416.14L293.6 414.87L294.6 413.58L295.6 412.27L296.6 410.94L297.6 409.60L298.6 408.23L299.6 406.85L300.6 405.46L301.6 404.04L302.7 402.61L303.7 401.16L304.7 399.69L305.7 398.21L306.7 396.70L307.7 395.19L308.7 393.65L309.7 392.10L310.7 390.53L311.7 388.95L312.7 387.35L313.7 385.74L314.7 384.12L315.7 382.48L316.7 380.83L317.7 379.17L318.7 377.51L319.7 375.83L320.7 374.14L321.7 372.45L322.7 370.75L323.7 369.04L324.7 367.33L325.7 365.61L326.7 363.89L327.7 362.16L328.7 360.43L329.7 358.70L330.7 356.97L331.7 355.24L332.7 353.51L333.7 351.78L334.7 350.05L335.7 348.32L336.7 346.60L337.7 344.88L338.7 343.16L339.7 341.45L340.7 339.75L341.7 338.05L342.7 336.36L343.7 334.69L344.7 333.02L345.7 331.36L346.7 329.71L347.7 328.08L348.8 326.46L349.8 324.86L350.8 323.27L351.8 321.70L352.8 320.15L353.8 318.62L354.8 317.10L355.8 315.61L356.8 314.15L357.8 312.70L358.8 311.28L359.8 309.89L360.8 308.53L361.8 307.19L362.8 305.88L363.8 304.60L364.8 303.35L365.8 302.13L366.8 300.95L367.8 299.80L368.8 298.68L369.8 297.61L370.8 296.57L371.8 295.56L372.8 294.60L373.8 293.68L374.8 292.79L375.8 291.95L376.8 291.16L377.8 290.41L378.8 289.70L379.8 289.04L380.8 288.42L381.8 287.84L382.8 287.31L383.8 286.83L384.8 286.38L385.8 285.99L386.8 285.63L387.8 285.32L388.8 285.06L389.8 284.84L390.8 284.66L391.8 284.53L392.8 284.44L393.8 284.40L394.9 284.40L395.9 284.44L396.9 284.53L397.9 284.66L398.9 284.83L399.9 285.05L400.9 285.32L401.9 285.63L402.9 285.98L403.9 286.37L404.9 286.81L405.9 287.30L406.9 287.82L407.9 288.39L408.9 288.99L409.9 289.64L410.9 290.32L411.9 291.04L412.9 291.80L413.9 292.59L414.9 293.42L415.9 294.28L416.9 295.18L417.9 296.11L418.9 297.07L419.9 298.06L420.9 299.07L421.9 300.12L422.9 301.20L423.9 302.30L424.9 303.42L425.9 304.57L426.9 305.75L427.9 306.95L428.9 308.17L429.9 309.41L430.9 310.67L431.9 311.95L432.9 313.25L433.9 314.57L434.9 315.91L435.9 317.25L436.9 318.62L437.9 320.00L438.9 321.39L439.9 322.79L441.0 324.21L442.0 325.63L443.0 327.07L444.0 328.51L445.0 329.96L446.0 331.41L447.0 332.88L448.0 334.34L449.0 335.82L450.0 337.29L451.0 338.77L452.0 340.24L453.0 341.72L454.0 343.20L455.0 344.67L456.0 346.14L457.0 347.61L458.0 349.08L459.0 350.54L460.0 351.99L461.0 353.44L462.0 354.88L463.0 356.31L464.0 357.73"/>
<path stroke="#800000" d="M93.2 458.33L94.2 458.13L95.2 457.93L96.2 457.73L97.2 457.53L98.2 457.33L99.2 457.12L100.2 456.91L101.2 456.70L102.2 456.49L103.2 456.27L104.2 456.05L105.2 455.83L106.2 455.60L107.2 455.37L108.2 455.14L109.2 454.91L110.2 454.67L111.2 454.43L112.2 454.19L113.2 453.94L114.2 453.69L115.2 453.44L116.2 453.19L117.3 452.93L118.3 452.67L119.3 452.40L120.3 452.13L121.3 451.86L122.3 451.59L123.3 451.31L124.3 451.02L125.3 450.74L126.3 450.45L127.3 450.16L128.3 449.86L129.3 449.56L130.3 449.25L131.3 448.94L132.3 448.63L133.3 448.32L134.3 448.00L135.3 447.67L136.3 447.34L137.3 447.01L138.3 446.68L139.3 446.34L140.3 445.99L141.3 445.64L142.3 445.29L143.3 444.93L144.3 444.57L145.3 444.20L146.3 443.83L147.3 443.46L148.3 443.08L149.3 442.69L150.3 442.30L151.3 441.91L152.3 441.51L153.3 441.11L154.3 440.70L155.3 440.29L156.3 439.87L157.3 439.44L158.3 439.02L159.3 438.58L160.3 438.15L161.3 437.70L162.3 437.25L163.4 436.80L164.4 436.34L165.4 435.88L166.4 435.41L167.4 434.93L168.4 434.45L169.4 433.97L170.4 433.48L171.4 432.98L172.4 432.48L173.4 431.97L174.4 431.46L175.4 430.94L176.4 430.42L177.4 429.88L178.4 429.35L179.4 428.81L180.4 428.26L181.4 427.70L182.4 427.14L183.4 426.58L184.4 426.01L185.4 425.43L186.4 424.84L187.4 424.25L188.4 423.65L189.4 423.05L190.4 422.44L191.4 421.83L192.4 421.20L193.4 420.57L194.4 419.94L195.4 419.30L196.4 418.65L197.4 417.99L198.4 417.33L199.4 416.66L200.4 415.99L201.4 415.31L202.4 414.62L203.4 413.92L204.4 413.22L205.4 412.52L206.4 411.81L207.4 411.09L208.4 410.36L209.5 409.63L210.5 408.90L211.5 408.16L212.5 407.41L213.5 406.66L214.5 405.90L215.5 405.13L216.5 404.36L217.5 403.59L218.5 402.81L219.5 402.02L220.5 401.23L221.5 400.44L222.5 399.64L223.5 398.83L224.5 398.02L225.5 397.20L226.5 396.38L227.5 395.56L228.5 394.73L229.5 393.90L230.5 393.06L231.5 392.22L232.5 391.37L233.5 390.52L234.5 389.66L235.5 388.80L236.5 387.94L237.5 387.07L238.5 386.20L239.5 385.32L240.5 384.44L241.5 383.56L242.5 382.67L243.5 381.78L244.5 380.88L245.5 379.99L246.5 379.08L247.5 378.18L248.5 377.27L249.5 376.36L250.5 375.44L251.5 374.53L252.5 373.60L253.5 372.68L254.5 371.75L255.6 370.82L256.6 369.89L257.6 368.96L258.6 368.02L259.6 367.08L260.6 366.13L261.6 365.19L262.6 364.24L263.6 363.29L264.6 362.34L265.6 361.38L266.6 360.43L267.6 359.47L268.6 358.51L269.6 357.54L270.6 356.58L271.6 355.61L272.6 354.64L273.6 353.67L274.6 352.70L275.6 351.73L276.6 350.75L277.6 349.78L278.6 348.80L279.6 347.82L280.6 346.84L281.6 345.86L282.6 344.88L283.6 343.90L284.6 342.91L285.6 341.93L286.6 340.95L287.6 339.97L288.6 339.00L289.6 338.02L290.6 337.05L291.6 336.08L292.6 335.12L293.6 334.16L294.6 333.20L295.6 332.25L296.6 331.31L297.6 330.37L298.6 329.44L299.6 328.52L300.6 327.61L301.6 326.70L302.7 325.80L303.7 324.91L304.7 324.04L305.7 323.17L306.7 322.31L307.7 321.46L308.7 320.63L309.7 319.81L310.7 319.00L311.7 318.20L312.7 317.41L313.7 316.64L314.7 315.87L315.7 315.12L316.7 314.37L317.7 313.64L318.7 312.92L319.7 312.21L320.7 311.51L321.7 310.82L322.7 310.13L323.7 309.46L324.7 308.80L325.7 308.14L326.7 307.50L327.7 306.86L328.7 306.23L329.7 305.61L330.7 305.00L331.7 304.40L332.7 303.81L333.7 303.22L334.7 302.64L335.7 302.07L336.7 301.50L337.7 300.94L338.7 300.40L339.7 299.86L340.7 299.32L341.7 298.80L342.7 298.28L343.7 297.77L344.7 297.27L345.7 296.78L346.7 296.30L347.7 295.83L348.8 295.36L349.8 294.90L350.8 294.45L351.8 294.01L352.8 293.58L353.8 293.16L354.8 292.75L355.8 292.34L356.8 291.95L357.8 291.56L358.8 291.19L359.8 290.82L360.8 290.46L361.8 290.11L362.8 289.77L363.8 289.44L364.8 289.12L365.8 288.81L366.8 288.51L367.8 288.22L368.8 287.94L369.8 287.67L370.8 287.41L371.8 287.16L372.8 286.91L373.8 286.68L374.8 286.46L375.8 286.25L376.8 286.05L377.8 285.86L378.8 285.68L379.8 285.51L380.8 285.36L381.8 285.21L382.8 285.07L383.8 284.95L384.8 284.83L385.8 284.72L386.8 284.63L387.8 284.55L388.8 284.47L389.8 284.41L390.8 284.35L391.8 284.31L392.8 284.28L393.8 284.26L394.9 284.25L395.9 284.24L396.9 284.25L397.9 284.27L398.9 284.30L399.9 284.34L400.9 284.39L401.9 284.45L402.9 284.52L403.9 284.59L404.9 284.68L405.9 284.78L406.9 284.89L407.9 285.01L408.9 285.14L409.9 285.27L410.9 285.42L411.9 285.58L412.9 285.75L413.9 285.92L414.9 286.11L415.9 286.30L416.9 286.51L417.9 286.73L418.9 286.95L419.9 287.18L420.9 287.43L421.9 287.68L422.9 287.94L423.9 288.21L424.9 288.49L425.9 288.78L426.9 289.08L427.9 289.39L428.9 289.71L429.9 290.04L430.9 290.37L431.9 290.72L432.9 291.07L433.9 291.43L434.9 291.80L435.9 292.19L436.9 292.58L437.9 292.97L438.9 293.38L439.9 293.80L441.0 294.22L442.0 294.66L443.0 295.10L444.0 295.55L445.0 296.01L446.0 296.48L447.0 296.96L448.0 297.44L449.0 297.94L450.0 298.44L451.0 298.95L452.0 299.47L453.0 300.00L454.0 300.54L455.0 301.08L456.0 301.63L457.0 302.20L458.0 302.77L459.0 303.34L460.0 303.93L461.0 304.52L462.0 305.13L463.0 305.74L464.0 306.36"/>
<path stroke="#008000" d="M93.4 391.61L94.4 391.11L95.4 390.61L96.4 390.10L97.4 389.60L98.4 389.10L99.4 388.59L100.4 388.08L101.4 387.58L102.4 387.07L103.4 386.56L104.4 386.05L105.4 385.54L106.4 385.03L107.4 384.51L108.4 384.00L109.4 383.49L110.4 382.97L111.4 382.46L112.4 381.94L113.4 381.43L114.4 380.91L115.4 380.39L116.4 379.87L117.4 379.35L118.4 378.83L119.4 378.31L120.4 377.79L121.4 377.27L122.4 376.75L123.4 376.23L124.5 375.71L125.5 375.18L126.5 374.66L127.5 374.14L128.5 373.61L129.5 373.09L130.5 372.56L131.5 372.04L132.5 371.51L133.5 370.99L134.5 370.46L135.5 369.94L136.5 369.41L137.5 368.88L138.5 368.36L139.5 367.83L140.5 367.30L141.5 366.78L142.5 366.25L143.5 365.72L144.5 365.20L145.5 364.67L146.5 364.14L147.5 363.61L148.5 363.09L149.5 362.56L150.5 362.03L151.5 361.51L152.5 360.98L153.5 360.45L154.5 359.93L155.5 359.40L156.5 358.87L157.5 358.35L158.5 357.82L159.5 357.30L160.5 356.77L161.5 356.25L162.5 355.72L163.5 355.20L164.5 354.67L165.5 354.15L166.5 353.63L167.5 353.10L168.5 352.58L169.5 352.06L170.5 351.54L171.5 351.02L172.5 350.50L173.5 349.98L174.5 349.46L175.5 348.94L176.5 348.42L177.5 347.90L178.5 347.38L179.5 346.87L180.5 346.35L181.5 345.84L182.5 345.32L183.5 344.81L184.5 344.29L185.5 343.78L186.6 343.27L187.6 342.76L188.6 342.25L189.6 341.74L190.6 341.23L191.6 340.72L192.6 340.22L193.6 339.71L194.6 339.21L195.6 338.70L196.6 338.20L197.6 337.70L198.6 337.20L199.6 336.70L200.6 336.20L201.6 335.70L202.6 335.20L203.6 334.71L204.6 334.21L205.6 333.72L206.6 333.23L207.6 332.74L208.6 332.25L209.6 331.76L210.6 331.27L211.6 330.78L212.6 330.30L213.6 329.82L214.6 329.33L215.6 328.85L216.6 328.37L217.6 327.89L218.6 327.42L219.6 326.94L220.6 326.47L221.6 325.99L222.6 325.52L223.6 325.05L224.6 324.59L225.6 324.12L226.6 323.65L227.6 323.19L228.6 322.73L229.6 322.27L230.6 321.81L231.6 321.35L232.6 320.90L233.6 320.44L234.6 319.99L235.6 319.54L236.6 319.09L237.6 318.64L238.6 318.20L239.6 317.76L240.6 317.31L241.6 316.87L242.6 316.44L243.6 316.00L244.6 315.57L245.6 315.13L246.6 314.70L247.6 314.28L248.7 313.85L249.7 313.43L250.7 313.00L251.7 312.58L252.7 312.16L253.7 311.75L254.7 311.33L255.7 310.92L256.7 310.51L257.7 310.10L258.7 309.70L259.7 309.30L260.7 308.89L261.7 308.50L262.7 308.10L263.7 307.70L264.7 307.31L265.7 306.92L266.7 306.54L267.7 306.15L268.7 305.77L269.7 305.39L270.7 305.01L271.7 304.63L272.7 304.26L273.7 303.89L274.7 303.52L275.7 303.15L276.7 302.79L277.7 302.43L278.7 302.07L279.7 301.72L280.7 301.36L281.7 301.01L282.7 300.67L283.7 300.32L284.7 299.98L285.7 299.64L286.7 299.30L287.7 298.97L288.7 298.63L289.7 298.31L290.7 297.98L291.7 297.66L292.7 297.34L293.7 297.02L294.7 296.70L295.7 296.39L296.7 296.08L297.7 295.78L298.7 295.47L299.7 295.17L300.7 294.88L301.7 294.58L302.7 294.29L303.7 294.00L304.7 293.72L305.7 293.44L306.7 293.16L307.7 292.88L308.7 292.61L309.8 292.34L310.8 292.07L311.8 291.81L312.8 291.55L313.8 291.29L314.8 291.04L315.8 290.79L316.8 290.54L317.8 290.30L318.8 290.06L319.8 289.82L320.8 289.59L321.8 289.36L322.8 289.13L323.8 288.90L324.8 288.68L325.8 288.46L326.8 288.25L327.8 288.04L328.8 287.83L329.8 287.63L330.8 287.42L331.8 287.22L332.8 287.03L333.8 286.84L334.8 286.65L335.8 286.46L336.8 286.28L337.8 286.10L338.8 285.92L339.8 285.75L340.8 285.58L341.8 285.41L342.8 285.25L343.8 285.09L344.8 284.93L345.8 284.77L346.8 284.62L347.8 284.47L348.8 284.33L349.8 284.19L350.8 284.05L351.8 283.91L352.8 283.78L353.8 283.65L354.8 283.52L355.8 283.40L356.8 283.28L357.8 283.16L358.8 283.05L359.8 282.94L360.8 282.83L361.8 282.72L362.8 282.62L363.8 282.52L364.8 282.43L365.8 282.33L366.8 282.24L367.8 282.16L368.8 282.07L369.8 281.99L370.8 281.91L371.9 281.84L372.9 281.77L373.9 281.70L374.9 281.63L375.9 281.57L376.9 281.51L377.9 281.45L378.9 281.40L379.9 281.35L380.9 281.30L381.9 281.25L382.9 281.21L383.9 281.17L384.9 281.14L385.9 281.10L386.9 281.07L387.9 281.05L388.9 281.02L389.9 281.00L390.9 280.98L391.9 280.97L392.9 280.96L393.9 280.95L394.9 280.94L395.9 280.94L396.9 280.93L397.9 280.94L398.9 280.94L399.9 280.95L400.9 280.96L401.9 280.97L402.9 280.99L403.9 281.01L404.9 281.03L405.9 281.06L406.9 281.09L407.9 281.12L408.9 281.15L409.9 281.19L410.9 281.23L411.9 281.27L412.9 281.31L413.9 281.36L414.9 281.41L415.9 281.46L416.9 281.52L417.9 281.58L418.9 281.64L419.9 281.71L420.9 281.77L421.9 281.85L422.9 281.92L423.9 281.99L424.9 282.07L425.9 282.15L426.9 282.24L427.9 282.33L428.9 282.42L429.9 282.51L430.9 282.60L431.9 282.70L432.9 282.80L434.0 282.91L435.0 283.01L436.0 283.12L437.0 283.23L438.0 283.35L439.0 283.47L440.0 283.59L441.0 283.71L442.0 283.83L443.0 283.96L444.0 284.09L445.0 284.23L446.0 284.36L447.0 284.50L448.0 284.64L449.0 284.79L450.0 284.94L451.0 285.09L452.0 285.24L453.0 285.39L454.0 285.55L455.0 285.71L456.0 285.87L457.0 286.04L458.0 286.21L459.0 286.38L460.0 286.55L461.0 286.73L462.0 286.91L463.0 287.09L464.0 287.27"/>
<path stroke="#ff8000" d="M93.4 317.32L94.4 317.03L95.4 316.73L96.4 316.44L97.4 316.15L98.4 315.86L99.4 315.57L100.4 315.28L101.4 314.99L102.4 314.70L103.4 314.42L104.4 314.13L105.4 313.85L106.4 313.56L107.4 313.28L108.4 313.00L109.4 312.72L110.4 312.44L111.4 312.16L112.4 311.88L113.4 311.61L114.4 311.33L115.4 311.06L116.4 310.79L117.4 310.51L118.4 310.24L119.4 309.97L120.4 309.70L121.4 309.43L122.4 309.17L123.4 308.90L124.5 308.63L125.5 308.37L126.5 308.11L127.5 307.84L128.5 307.58L129.5 307.32L130.5 307.06L131.5 306.81L132.5 306.55L133.5 306.29L134.5 306.04L135.5 305.78L136.5 305.53L137.5 305.28L138.5 305.02L139.5 304.77L140.5 304.52L141.5 304.28L142.5 304.03L143.5 303.78L144.5 303.54L145.5 303.29L146.5 303.05L147.5 302.80L148.5 302.56L149.5 302.32L150.5 302.08L151.5 301.84L152.5 301.61L153.5 301.37L154.5 301.13L155.5 300.90L156.5 300.66L157.5 300.43L158.5 300.20L159.5 299.97L160.5 299.74L161.5 299.51L162.5 299.28L163.5 299.05L164.5 298.83L165.5 298.60L166.5 298.38L167.5 298.16L168.5 297.93L169.5 297.71L170.5 297.49L171.5 297.27L172.5 297.05L173.5 296.84L174.5 296.62L175.5 296.41L176.5 296.19L177.5 295.98L178.5 295.77L179.5 295.55L180.5 295.34L181.5 295.13L182.5 294.93L183.5 294.72L184.5 294.51L185.5 294.31L186.6 294.10L187.6 293.90L188.6 293.69L189.6 293.49L190.6 293.29L191.6 293.09L192.6 292.89L193.6 292.69L194.6 292.50L195.6 292.30L196.6 292.11L197.6 291.91L198.6 291.72L199.6 291.53L200.6 291.33L201.6 291.14L202.6 290.96L203.6 290.77L204.6 290.58L205.6 290.39L206.6 290.21L207.6 290.02L208.6 289.84L209.6 289.66L210.6 289.47L211.6 289.29L212.6 289.11L213.6 288.94L214.6 288.76L215.6 288.58L216.6 288.40L217.6 288.23L218.6 288.06L219.6 287.88L220.6 287.71L221.6 287.54L222.6 287.37L223.6 287.20L224.6 287.03L225.6 286.86L226.6 286.70L227.6 286.53L228.6 286.37L229.6 286.20L230.6 286.04L231.6 285.88L232.6 285.72L233.6 285.56L234.6 285.40L235.6 285.24L236.6 285.08L237.6 284.93L238.6 284.77L239.6 284.62L240.6 284.47L241.6 284.31L242.6 284.16L243.6 284.01L244.6 283.86L245.6 283.71L246.6 283.57L247.6 283.42L248.7 283.27L249.7 283.13L250.7 282.99L251.7 282.84L252.7 282.70L253.7 282.56L254.7 282.42L255.7 282.28L256.7 282.14L257.7 282.01L258.7 281.87L259.7 281.73L260.7 281.60L261.7 281.47L262.7 281.33L263.7 281.20L264.7 281.07L265.7 280.94L266.7 280.81L267.7 280.69L268.7 280.56L269.7 280.43L270.7 280.31L271.7 280.18L272.7 280.06L273.7 279.94L274.7 279.82L275.7 279.70L276.7 279.58L277.7 279.46L278.7 279.34L279.7 279.22L280.7 279.11L281.7 278.99L282.7 278.88L283.7 278.77L284.7 278.66L285.7 278.54L286.7 278.43L287.7 278.32L288.7 278.22L289.7 278.11L290.7 278.00L291.7 277.90L292.7 277.79L293.7 277.69L294.7 277.59L295.7 277.48L296.7 277.38L297.7 277.28L298.7 277.18L299.7 277.09L300.7 276.99L301.7 276.89L302.7 276.80L303.7 276.70L304.7 276.61L305.7 276.52L306.7 276.42L307.7 276.33L308.7 276.24L309.8 276.16L310.8 276.07L311.8 275.98L312.8 275.89L313.8 275.81L314.8 275.72L315.8 275.64L316.8 275.56L317.8 275.48L318.8 275.40L319.8 275.32L320.8 275.24L321.8 275.16L322.8 275.08L323.8 275.01L324.8 274.93L325.8 274.86L326.8 274.78L327.8 274.71L328.8 274.64L329.8 274.57L330.8 274.50L331.8 274.43L332.8 274.36L333.8 274.29L334.8 274.23L335.8 274.16L336.8 274.10L337.8 274.04L338.8 273.97L339.8 273.91L340.8 273.85L341.8 273.79L342.8 273.73L343.8 273.67L344.8 273.62L345.8 273.56L346.8 273.51L347.8 273.45L348.8 273.40L349.8 273.35L350.8 273.29L351.8 273.24L352.8 273.19L353.8 273.14L354.8 273.10L355.8 273.05L356.8 273.00L357.8 272.96L358.8 272.91L359.8 272.87L360.8 272.83L361.8 272.78L362.8 272.74L363.8 272.70L364.8 272.66L365.8 272.63L366.8 272.59L367.8 272.55L368.8 272.52L369.8 272.48L370.8 272.45L371.9 272.42L372.9 272.38L373.9 272.35L374.9 272.32L375.9 272.29L376.9 272.27L377.9 272.24L378.9 272.21L379.9 272.19L380.9 272.16L381.9 272.14L382.9 272.11L383.9 272.09L384.9 272.07L385.9 272.05L386.9 272.03L387.9 272.01L388.9 272.00L389.9 271.98L390.9 271.96L391.9 271.95L392.9 271.93L393.9 271.92L394.9 271.91L395.9 271.90L396.9 271.89L397.9 271.88L398.9 271.87L399.9 271.86L400.9 271.85L401.9 271.85L402.9 271.84L403.9 271.84L404.9 271.83L405.9 271.83L406.9 271.83L407.9 271.83L408.9 271.83L409.9 271.83L410.9 271.83L411.9 271.83L412.9 271.84L413.9 271.84L414.9 271.85L415.9 271.85L416.9 271.86L417.9 271.87L418.9 271.88L419.9 271.89L420.9 271.90L421.9 271.91L422.9 271.92L423.9 271.93L424.9 271.95L425.9 271.96L426.9 271.98L427.9 271.99L428.9 272.01L429.9 272.03L430.9 272.05L431.9 272.07L432.9 272.09L434.0 272.11L435.0 272.14L436.0 272.16L437.0 272.18L438.0 272.21L439.0 272.24L440.0 272.26L441.0 272.29L442.0 272.32L443.0 272.35L444.0 272.38L445.0 272.41L446.0 272.44L447.0 272.48L448.0 272.51L449.0 272.55L450.0 272.58L451.0 272.62L452.0 272.66L453.0 272.69L454.0 272.73L455.0 272.77L456.0 272.81L457.0 272.86L458.0 272.90L459.0 272.94L460.0 272.99L461.0 273.03L462.0 273.08L463.0 273.12L464.0 273.17"/>
</g>
<path d="M138.5 5.10 H176.3" stroke="#f00" stroke-width="1.7"/>
<text x="180.6" y="11.00" font-size="16.5" class="s l">W=</text>
<path transform="translate(205.81,11.00) scale(0.00806,-0.00806)" d="M763 0H583V1147Q518 1085 412.5 1023T223 930V1104Q374 1175 487 1276T647 1472H763Z" fill="#000" stroke="#000" stroke-width="18.6"/>
<text x="214.99" y="11.00" font-size="16.5" class="s l">60 <tspan class="sf" dx="-0.5">μ</tspan><tspan dx="-0.4">m</tspan></text>
<path d="M138.5 25.65 H176.3" stroke="#00f" stroke-width="1.7"/>
<text x="180.6" y="31.55" font-size="16.5" class="s l">W=</text>
<text x="205.81" y="31.55" font-size="16.5" class="s l">80 <tspan class="sf" dx="-0.5">μ</tspan><tspan dx="-0.4">m</tspan></text>
<path d="M138.5 46.25 H176.3" stroke="#800000" stroke-width="1.7"/>
<text x="180.6" y="52.15" font-size="16.5" class="s l">W=</text>
<text x="205.81" y="52.15" font-size="16.5" class="s l">40 <tspan class="sf" dx="-0.5">μ</tspan><tspan dx="-0.4">m</tspan></text>
<path d="M138.5 66.80 H176.3" stroke="#008000" stroke-width="1.7"/>
<text x="180.6" y="72.70" font-size="16.5" class="s l">W=</text>
<text x="205.81" y="72.70" font-size="16.5" class="s l">20 <tspan class="sf" dx="-0.5">μ</tspan><tspan dx="-0.4">m</tspan></text>
<path d="M138.5 87.20 H176.3" stroke="#ff8000" stroke-width="1.7"/>
<text x="180.6" y="93.10" font-size="16.5" class="s l">W=</text>
<path transform="translate(205.81,93.10) scale(0.00806,-0.00806)" d="M763 0H583V1147Q518 1085 412.5 1023T223 930V1104Q374 1175 487 1276T647 1472H763Z" fill="#000" stroke="#000" stroke-width="18.6"/>
<text x="214.99" y="93.10" font-size="16.5" class="s l">0 <tspan class="sf" dx="-0.5">μ</tspan><tspan dx="-0.4">m</tspan></text>
<text x="81.9" y="53.05" font-size="23" text-anchor="end" class="s t">300</text>
<text x="81.9" y="113.07" font-size="23" text-anchor="end" class="s t">0</text>
<text x="81.9" y="173.09" font-size="23" text-anchor="end" class="s t">-300</text>
<text x="81.9" y="233.10" font-size="23" text-anchor="end" class="s t">-600</text>
<text x="81.9" y="493.35" font-size="23" text-anchor="end" class="s t">0.8</text>
<text x="81.9" y="406.60" font-size="23" text-anchor="end" class="s t">.2</text>
<path transform="translate(49.93,406.60) scale(0.01123,-0.01123)" d="M763 0H583V1147Q518 1085 412.5 1023T223 930V1104Q374 1175 487 1276T647 1472H763Z" fill="#000" stroke="#000" stroke-width="24.9"/>
<text x="81.9" y="319.85" font-size="23" text-anchor="end" class="s t">.6</text>
<path transform="translate(49.93,319.85) scale(0.01123,-0.01123)" d="M763 0H583V1147Q518 1085 412.5 1023T223 930V1104Q374 1175 487 1276T647 1472H763Z" fill="#000" stroke="#000" stroke-width="24.9"/>
<text x="92.90" y="516.7" font-size="23.3" text-anchor="middle" class="s t">0.080</text>
<text x="186.04" y="516.7" font-size="23.3" text-anchor="middle" class="s t">0.082</text>
<text x="279.18" y="516.7" font-size="23.3" text-anchor="middle" class="s t">0.084</text>
<text x="372.32" y="516.7" font-size="23.3" text-anchor="middle" class="s t">0.086</text>
<text x="465.46" y="516.7" font-size="23.3" text-anchor="middle" class="s t">0.088</text>
<text x="100.4" y="256.6" font-size="28.3" class="s t">(b)</text>
<text x="100.4" y="-5.9" font-size="28.3" class="s t">(a)</text>
<text x="309.9" y="562.3" font-size="32.5" class="s" stroke="#000" stroke-width="0.5">x</text>
<text x="325.9" y="575.3" font-size="19" class="s" stroke="#000" stroke-width="0.3">m</text>
<g transform="translate(29.1,407.9) rotate(-90)" stroke="#000" stroke-width="0.4"><text x="0" y="0" font-size="32.8" class="s">W</text><text x="31.9" y="14.0" font-size="20" class="s" stroke-width="0.3">r</text><text x="37.5" y="0" font-size="32.8" class="s">/W</text></g>
<path fill-rule="evenodd" d="M21.1 111.05 a6.55 6.4 0 1 0 0.01 0 Z M20.4 113.0 a4.3 4.0 0 1 1 -0.01 0 Z" fill="#000"/><path d="M19.2 111.6 C15.9 113.4 12.6 119.3 9.7 121.2 C7.8 122.4 6.0 120.5 6.2 117.8 C6.4 115.0 7.8 113.0 9.0 112.5" fill="none" stroke="#000" stroke-width="1.15" stroke-linecap="round"/><path d="M10.2 120.9 C7.8 122.4 6.0 120.5 6.2 117.8 C6.4 115.0 7.8 113.0 9.0 112.5" fill="none" stroke="#000" stroke-width="1.8" stroke-linecap="round"/><g transform="translate(27.9,124.8) rotate(-90)"><text x="14.7" y="12" font-size="20" class="s" stroke="#000" stroke-width="0.3">r</text></g>
</svg>
</body></html>
